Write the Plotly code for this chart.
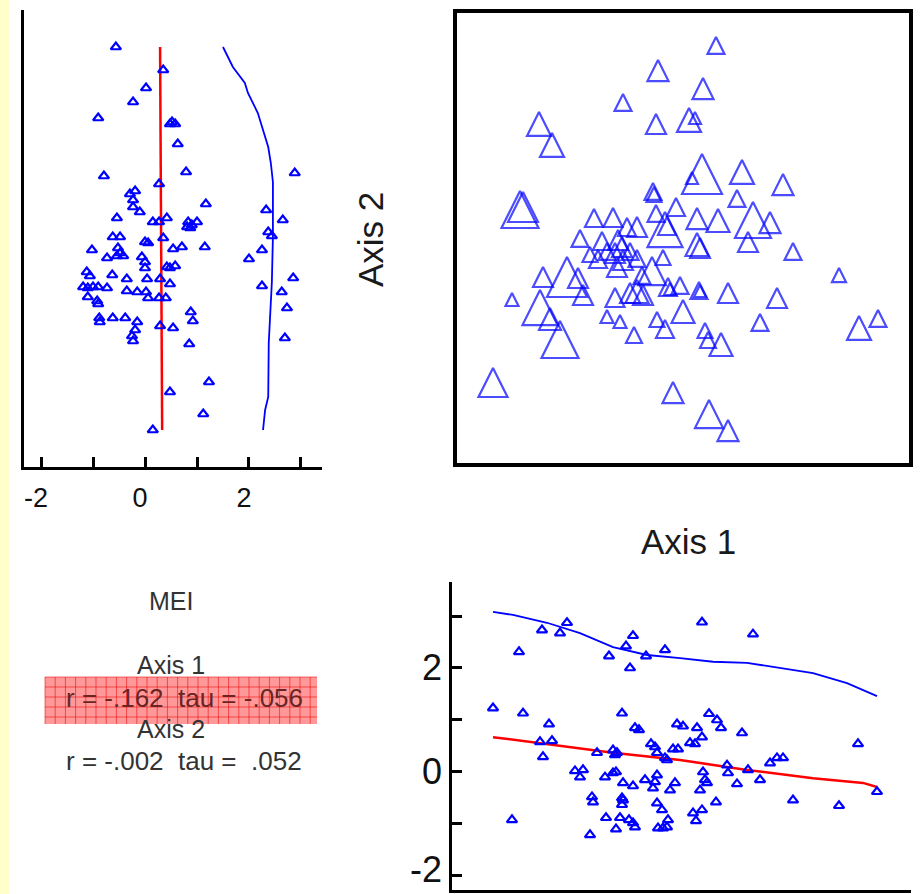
import plotly.graph_objects as go

W, H = 920, 894

# ---------------- data ----------------
# Top-left panel: MEI (x) against Axis 2 scores (y)
tl_mei = [-0.56, 0.35, 0.02, -0.23, -0.90, 0.52, 0.58, 0.48, 0.63, -0.79,
          0.79, 0.27, 2.88, -0.29, -0.19, -0.23, -0.23, -0.10, 1.17, -0.54,
          0.15, 0.27, 0.42, 0.83, 0.90, 1.00, 0.87, 0.81, 2.33, 2.65,
          -0.62, -0.48, 0.00, 0.06, 0.35, -1.02, 0.54, 0.71, 1.15, 2.37,
          2.44, 2.25, -0.52, -0.48, -0.54, -0.42, -0.73, -0.06, 0.00, 0.00,
          2.00, 0.42, 0.58, 0.48, 2.85, -1.12, -1.06, -0.63, -0.35, 0.04,
          0.29, 0.48, -1.19, -1.10, -1.00, -0.90, -0.73, -0.35, -0.15, 0.02,
          0.06, 0.27, 0.40, -1.10, -0.92, -0.90, 2.25, 2.63, 2.73, 0.88,
          0.92, -0.88, -0.87, -0.62, -0.38, -0.15, 0.29, 0.54, -0.19, -0.25,
          -0.23, 2.69, 0.85, 1.23, 0.48, 1.12, 0.15]
tl_ax2 = [1.93, 1.70, 1.52, 1.38, 1.22, 1.18, 1.16, 1.16, 0.96, 0.64,
          0.68, 0.56, 0.67, 0.46, 0.49, 0.40, 0.33, 0.28, 0.36, 0.22,
          0.18, 0.18, 0.22, 0.18, 0.15, 0.18, 0.12, 0.13, 0.30, 0.20,
          0.03, 0.03, -0.02, -0.03, 0.02, -0.10, -0.09, -0.07, -0.07, 0.08,
          0.04, -0.10, -0.08, -0.13, -0.16, -0.16, -0.18, -0.17, -0.22, -0.28,
          -0.19, -0.27, -0.26, -0.28, -0.38, -0.32, -0.36, -0.35, -0.39, -0.39,
          -0.39, -0.44, -0.47, -0.48, -0.47, -0.47, -0.48, -0.51, -0.52, -0.52,
          -0.58, -0.58, -0.58, -0.57, -0.61, -0.64, -0.46, -0.52, -0.68, -0.72,
          -0.81, -0.78, -0.82, -0.78, -0.78, -0.82, -0.86, -0.88, -0.90, -0.96,
          -1.01, -0.98, -1.04, -1.42, -1.52, -1.74, -1.90]
tl_curve_mei = [1.50, 1.69, 1.92, 1.98, 2.17, 2.27, 2.37, 2.42, 2.46, 2.46, 2.44, 2.38, 2.37, 2.31, 2.27]
tl_curve_ax2 = [1.93, 1.73, 1.57, 1.47, 1.27, 1.10, 0.93, 0.77, 0.58, 0.03, -0.42, -1.03, -1.57, -1.70, -1.90]
tl_fit_mei = [0.29, 0.33]
tl_fit_ax2 = [1.93, -1.90]

# Top-right panel: Axis 1 vs Axis 2, symbol size scaled by MEI
tr_ax1 = [0.36, -0.22, 0.23, -0.57, -1.41, -1.28, -0.24, 0.09, 0.15, 0.22,
          0.12, 0.62, 1.03, -0.27, -0.26, 0.57, -1.60, -1.57, -0.86, -0.67,
          -0.04, 0.17, 0.38, 0.73, 0.90, -0.24, -0.15, -0.43, -0.53, -1.00,
          -0.78, -0.62, -0.58, -0.65, -0.57, -0.63, -0.50, -0.43, -0.73, -0.90,
          -0.82, 0.17, 0.20, -0.17, 1.13, 0.68, -1.13, -1.37, -1.02, -1.68,
          -1.40, -0.97, -1.30, -1.20, -0.28, -0.38, -0.65, -0.50, -0.37, -0.43,
          -0.12, -0.10, 0.00, 0.19, 0.20, 0.48, 0.97, -0.73, -0.60, -0.23,
          -0.15, 0.03, -0.46, 0.25, 0.28, 0.41, 0.80, 1.59, 1.79, 1.98,
          -0.07, 0.29, 0.48, -1.87, -0.13]
tr_ax2 = [2.03, 1.80, 1.62, 1.46, 1.28, 1.07, 1.26, 1.32, 1.28, 0.86,
          0.68, 0.80, 0.66, 0.57, 0.53, 0.50, 0.49, 0.48, 0.31, 0.32,
          0.42, 0.32, 0.31, 0.38, 0.28, 0.35, 0.28, 0.23, 0.22, 0.10,
          0.08, 0.10, 0.03, -0.03, -0.10, -0.17, -0.03, -0.10, -0.03, -0.07,
          -0.10, 0.07, 0.02, -0.10, -0.03, 0.08, -0.17, -0.27, -0.28, -0.53,
          -0.50, -0.45, -0.68, -0.81, -0.17, -0.27, -0.48, -0.43, -0.45, -0.40,
          -0.38, -0.43, -0.37, -0.42, -0.45, -0.43, -0.48, -0.70, -0.75, -0.72,
          -0.80, -0.60, -0.87, -0.83, -0.92, -0.93, -0.74, -0.28, -0.76, -0.70,
          -1.42, -1.60, -1.80, -1.28, 0.23]
tr_mei = [-0.49, 0.09, 0.09, -0.49, 0.51, 0.51, -0.06, 0.51, -1.20, 2.80,
          -1.20, 0.51, 0.09, -0.49, -0.77, -0.49, 2.37, 1.37, -0.34, -0.20,
          -0.34, 0.09, 0.37, 2.23, 0.09, -0.49, 2.09, -0.06, -0.34, -0.49,
          -0.34, -0.06, -0.06, -0.06, -0.06, -0.06, -0.49, -0.49, -0.49, -0.77,
          -0.34, 0.37, -0.06, -0.77, -0.49, -0.06, 2.80, -0.06, -0.06, -1.06,
          2.09, -0.06, 0.23, 2.37, 1.09, -0.49, -0.20, -0.06, -0.06, 0.37,
          -0.34, -1.20, -0.49, -0.49, -1.20, -0.06, -0.06, -1.06, -1.06, -0.77,
          -0.34, 0.37, -0.63, -0.77, -0.63, 0.37, -0.49, -0.91, 0.51, -0.49,
          0.09, 1.09, 0.09, 1.23, -0.34]

# Bottom-right panel: Axis 1 (x) against MEI (y)
br_ax1 = [-1.38, -1.20, -1.13, -1.61, -0.47, -0.54, -0.71, -0.34, -0.15, -0.50,
          0.22, 0.73, -1.87, -1.57, -0.58, -1.31, 0.29, 0.37, 0.41, -0.03,
          0.03, -0.45, -0.41, 0.17, 0.22, 0.62, -1.40, -1.28, -0.29, -0.25,
          0.10, 0.15, -0.07, -0.02, 1.78, -1.37, -0.83, -0.67, -0.63, -0.65,
          -0.23, -0.15, -0.13, 0.90, 0.97, 1.03, 0.47, 0.48, 0.68, -1.05,
          -0.97, -1.00, -0.75, -0.67, -0.64, -0.35, -0.25, -0.23, 0.23, 0.25,
          0.27, -0.57, -0.47, -0.27, -0.05, -0.10, 0.20, 0.57, 0.80, 1.97,
          1.13, 1.59, -0.88, -0.87, -0.58, -0.57, -0.58, -0.23, -0.18, 0.36,
          0.13, 0.22, 0.16, -0.12, -0.13, -1.68, -0.74, -0.60, -0.51, -0.47,
          -0.45, -0.64, -0.22, -0.17, -0.90]
br_mei = [2.73, 2.67, 2.87, 2.31, 2.62, 2.42, 2.23, 2.23, 2.35, 2.00,
          2.88, 2.65, 1.23, 1.13, 1.13, 0.92, 1.12, 1.00, 0.85, 0.92,
          0.88, 0.85, 0.81, 0.85, 0.67, 0.75, 0.58, 0.60, 0.54, 0.48,
          0.56, 0.54, 0.44, 0.44, 0.54, 0.29, 0.37, 0.42, 0.37, 0.33,
          0.37, 0.27, 0.23, 0.17, 0.27, 0.27, 0.13, -0.02, 0.04, 0.02,
          0.04, -0.10, -0.10, -0.02, 0.00, -0.15, -0.19, -0.06, 0.00, -0.15,
          -0.21, -0.21, -0.27, -0.31, -0.21, -0.35, -0.35, -0.23, -0.15, -0.38,
          -0.54, -0.65, -0.48, -0.58, -0.50, -0.54, -0.63, -0.60, -0.73, -0.58,
          -0.79, -0.73, -0.94, -0.92, -1.06, -0.92, -0.88, -0.88, -0.92, -0.98,
          -1.06, -1.10, -1.08, -1.08, -1.21]
br_curve_ax1 = [-1.87, -1.67, -1.33, -1.00, -0.67, -0.33, 0.00, 0.33, 0.67, 1.00, 1.33, 1.67, 1.97]
br_curve_mei = [3.08, 3.02, 2.87, 2.67, 2.40, 2.25, 2.19, 2.12, 2.10, 2.00, 1.90, 1.71, 1.46]
br_fit_ax1 = [-1.87, -1.33, -0.67, 0.00, 0.67, 1.33, 1.83, 1.97]
br_fit_mei = [0.67, 0.54, 0.37, 0.23, 0.04, -0.12, -0.21, -0.29]

mei_tickvals = [-2, -1, 0, 1, 2, 3]
mei_ticktext = ["-2", "", "0", "", "2", ""]

stats_lines = ["MEI", "Axis 1", "r = -.162  tau = -.056", "Axis 2", "r = -.002  tau =  .052"]

# ---------------- figure ----------------
BLUE = "#0000FF"
RED = "#FF0000"
FONT = "Liberation Sans, Arial, sans-serif"


def pxx(x):
    return x / W


def pyy(y):
    return 1 - y / H


fig = go.Figure()

# top-left
fig.add_trace(go.Scatter(x=tl_fit_mei, y=tl_fit_ax2, mode="lines",
                         line=dict(color=RED, width=2.5), xaxis="x", yaxis="y"))
fig.add_trace(go.Scatter(x=tl_curve_mei, y=tl_curve_ax2, mode="lines",
                         line=dict(color=BLUE, width=1.8), xaxis="x", yaxis="y"))
fig.add_trace(go.Scatter(x=tl_mei, y=tl_ax2, mode="markers",
                         marker=dict(symbol="triangle-up-open", size=9, color=BLUE,
                                     line=dict(color=BLUE, width=2.2)),
                         xaxis="x", yaxis="y"))

# top-right
tr_size = [12 + 7 * (m + 1.2) for m in tr_mei]
fig.add_trace(go.Scatter(x=tr_ax1, y=tr_ax2, mode="markers",
                         marker=dict(symbol="arrow-up-open", size=tr_size, color=BLUE,
                                     line=dict(color=BLUE, width=2.2)),
                         xaxis="x2", yaxis="y2"))

# bottom-right
fig.add_trace(go.Scatter(x=br_curve_ax1, y=br_curve_mei, mode="lines",
                         line=dict(color=BLUE, width=1.8), xaxis="x3", yaxis="y3"))
fig.add_trace(go.Scatter(x=br_fit_ax1, y=br_fit_mei, mode="lines",
                         line=dict(color=RED, width=2.5), xaxis="x3", yaxis="y3"))
fig.add_trace(go.Scatter(x=br_ax1, y=br_mei, mode="markers",
                         marker=dict(symbol="triangle-up-open", size=9, color=BLUE,
                                     line=dict(color=BLUE, width=2.2)),
                         xaxis="x3", yaxis="y3"))

base_ax = dict(showgrid=False, zeroline=False, fixedrange=True)

fig.update_layout(
    width=W, height=H, margin=dict(l=0, r=0, t=0, b=0),
    paper_bgcolor="white", plot_bgcolor="rgba(0,0,0,0)",
    showlegend=False, hovermode=False,
    font=dict(family=FONT, color="black"),
    xaxis=dict(base_ax, domain=[pxx(24), pxx(322)], range=[-2.327, 3.404], anchor="y",
               showline=True, linecolor="black", linewidth=3,
               tickmode="array", tickvals=mei_tickvals, ticktext=mei_ticktext,
               ticks="inside", ticklen=10, tickwidth=3, tickcolor="black",
               tickfont=dict(size=27, color="#111111", family=FONT),
               ticklabelstandoff=5, ticklabelshift=-5),
    yaxis=dict(base_ax, domain=[pyy(467), pyy(10)], range=[-2.27, 2.30], anchor="x",
               showline=True, linecolor="black", linewidth=3,
               ticks="", showticklabels=False),
    xaxis2=dict(base_ax, domain=[pxx(454), pxx(911)], range=[-2.26, 2.31], anchor="y2",
                visible=False),
    yaxis2=dict(base_ax, domain=[pyy(466), pyy(10)], range=[-2.26, 2.30], anchor="x2",
                visible=False),
    xaxis3=dict(base_ax, domain=[pxx(452), pxx(911)], range=[-2.28, 2.31], anchor="y3",
                showline=True, linecolor="black", linewidth=3,
                ticks="", showticklabels=False),
    yaxis3=dict(base_ax, domain=[pyy(890), pyy(582)], range=[-2.27, 3.654], anchor="x3",
                showline=True, linecolor="black", linewidth=3,
                tickmode="array", tickvals=mei_tickvals,
                ticks="inside", ticklen=10, tickwidth=3, tickcolor="black",
                showticklabels=False),
)

shapes = []
# pale yellow strip at left edge
shapes.append(dict(type="rect", xref="paper", yref="paper", x0=0, x1=pxx(9), y0=0, y1=1,
                   fillcolor="#FFFFCC", line=dict(width=0), layer="below"))
# frame of the ordination panel
shapes.append(dict(type="rect", xref="paper", yref="paper", x0=pxx(455), x1=pxx(911),
                   y0=pyy(465), y1=pyy(11), line=dict(color="black", width=4),
                   fillcolor="rgba(0,0,0,0)"))
# red highlight box with grid
bx0, bx1, by0, by1 = 45, 317, 677, 724
shapes.append(dict(type="rect", xref="paper", yref="paper", x0=pxx(bx0), x1=pxx(bx1),
                   y0=pyy(by1), y1=pyy(by0), fillcolor="rgba(255,80,80,0.58)",
                   line=dict(width=0), layer="above"))
gx = bx0
while gx <= bx1:
    shapes.append(dict(type="line", xref="paper", yref="paper", x0=pxx(gx), x1=pxx(gx),
                       y0=pyy(by1), y1=pyy(by0), line=dict(color="rgba(235,0,0,0.55)", width=1),
                       layer="above"))
    gx += 10.2
gy = by0
while gy <= by1:
    shapes.append(dict(type="line", xref="paper", yref="paper", x0=pxx(bx0), x1=pxx(bx1),
                       y0=pyy(gy), y1=pyy(gy), line=dict(color="rgba(235,0,0,0.55)", width=1),
                       layer="above"))
    gy += 10.0
fig.update_layout(shapes=shapes)

ann = []
# MEI tick labels of the bottom-right axis (placed on the axis scale);
# the lowest one is bottom-anchored so that it stays inside the page
lowest = min(v for v, t in zip(mei_tickvals, mei_ticktext) if t)
for v, t in zip(mei_tickvals, mei_ticktext):
    if t:
        low = (v == lowest)
        ann.append(dict(text=t, x=0, xref="x3 domain", y=v, yref="y3",
                        xanchor="right", yanchor="bottom" if low else "middle",
                        xshift=-8, yshift=-16 if low else 0, showarrow=False,
                        font=dict(size=36, color="#111111", family=FONT)))
ann.append(dict(text="Axis 2", x=pxx(370), y=pyy(240), xref="paper", yref="paper",
                showarrow=False, textangle=-90, xanchor="center", yanchor="middle",
                font=dict(size=35, color="#1a1a1a", family=FONT)))
ann.append(dict(text="Axis 1", x=pxx(688), y=pyy(541), xref="paper", yref="paper",
                showarrow=False, xanchor="center", yanchor="middle",
                font=dict(size=35, color="#1a1a1a", family=FONT)))
ys = [601, 665, 698, 729, 761]
xs = [171, 171, 184, 171, 184]
sz = [25, 25, 26, 25, 26]
for i, t in enumerate(stats_lines):
    col = "#6a2424" if i == 2 else "#333333"
    ann.append(dict(text=t.replace("  ", " \u00a0"), x=pxx(xs[i]), y=pyy(ys[i]),
                    xref="paper", yref="paper", showarrow=False,
                    xanchor="center", yanchor="middle",
                    font=dict(size=sz[i], color=col, family=FONT)))
fig.update_layout(annotations=ann)

fig.write_html("out.html")
